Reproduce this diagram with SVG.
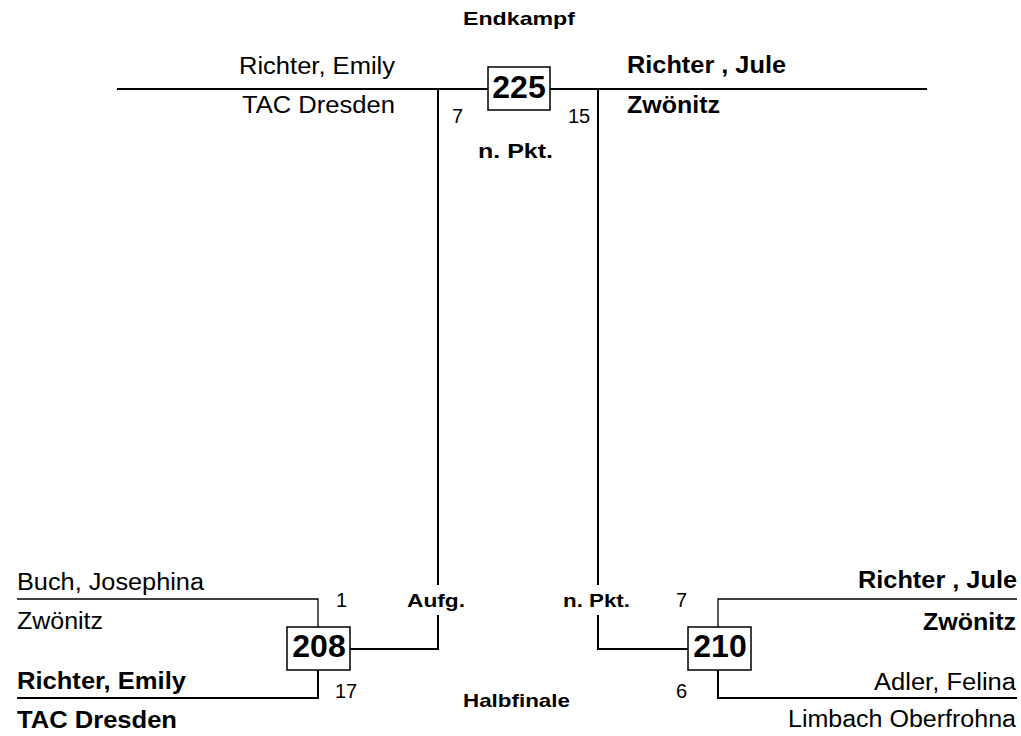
<svg xmlns="http://www.w3.org/2000/svg" width="1021" height="736" viewBox="0 0 1021 736">
<style>
text{font-family:"Liberation Sans",Arial,sans-serif;fill:#000}
.r{font-size:23.5px}
.b{font-size:23px;font-weight:bold}
.s{font-size:20px}
.h{font-size:18.5px;font-weight:bold}
.num{font-size:32px;font-weight:bold}
.box{fill:#fff;stroke:#000;stroke-width:1.5}
.ln{stroke:#000;stroke-width:2;fill:none}
.thin{stroke:#000;stroke-width:1.3;fill:none}
</style>
<rect width="1021" height="736" fill="#fff"/>
<g id="titles">
<text class="h" x="463" y="25" textLength="112" lengthAdjust="spacingAndGlyphs">Endkampf</text>
<text class="h" x="463" y="707" textLength="107" lengthAdjust="spacingAndGlyphs">Halbfinale</text>
</g>
<g id="connectors">
<line class="ln" x1="117" y1="89" x2="927" y2="89"/>
<polyline class="ln" points="438,89 438,585"/>
<polyline class="ln" points="438,615 438,649 350,649"/>
<polyline class="ln" points="598,89 598,585"/>
<polyline class="ln" points="598,615 598,649 688,649"/>
<polyline class="thin" points="17,599 318,599 318,627"/>
<polyline class="ln" points="17,698 318,698 318,670"/>
<polyline class="thin" points="1017,599 718,599 718,627"/>
<polyline class="ln" points="1017,698 718,698 718,670"/>
</g>
<g id="final-225">
<rect class="box" x="488" y="67" width="62" height="43"/>
<text class="num" x="519" y="98" text-anchor="middle">225</text>
<text class="s" x="452" y="123">7</text>
<text class="s" x="568" y="123">15</text>
<text x="478" y="158" style="font-size:21px;font-weight:bold" textLength="75" lengthAdjust="spacingAndGlyphs">n. Pkt.</text>
</g>
<g id="final-left">
<text class="r" x="239" y="74" textLength="156" lengthAdjust="spacingAndGlyphs">Richter, Emily</text>
<text class="r" x="242" y="113" textLength="153" lengthAdjust="spacingAndGlyphs">TAC Dresden</text>
</g>
<g id="final-right">
<text class="b" x="627" y="73" textLength="159" lengthAdjust="spacingAndGlyphs">Richter , Jule</text>
<text class="b" x="627" y="113" textLength="93" lengthAdjust="spacingAndGlyphs">Zwönitz</text>
</g>
<g id="sf-208">
<rect class="box" x="287" y="627" width="63" height="43"/>
<text class="num" x="319" y="657" text-anchor="middle">208</text>
<text class="s" x="336" y="607">1</text>
<text class="s" x="335" y="698">17</text>
<text class="h" x="407" y="607" textLength="58" lengthAdjust="spacingAndGlyphs">Aufg.</text>
</g>
<g id="sf-208-top">
<text class="r" x="17" y="590" textLength="187" lengthAdjust="spacingAndGlyphs">Buch, Josephina</text>
<text class="r" x="17" y="629" textLength="86" lengthAdjust="spacingAndGlyphs">Zwönitz</text>
</g>
<g id="sf-208-bottom">
<text class="b" x="17" y="689" textLength="169" lengthAdjust="spacingAndGlyphs">Richter, Emily</text>
<text class="b" x="17" y="728" textLength="160" lengthAdjust="spacingAndGlyphs">TAC Dresden</text>
</g>
<g id="sf-210">
<rect class="box" x="688" y="627" width="63" height="43"/>
<text class="num" x="720" y="657" text-anchor="middle">210</text>
<text class="s" x="676" y="607">7</text>
<text class="s" x="676" y="698">6</text>
<text class="h" x="563" y="607" textLength="67" lengthAdjust="spacingAndGlyphs">n. Pkt.</text>
</g>
<g id="sf-210-top">
<text class="b" x="858" y="588" textLength="159" lengthAdjust="spacingAndGlyphs">Richter , Jule</text>
<text class="b" x="923" y="630" textLength="93" lengthAdjust="spacingAndGlyphs">Zwönitz</text>
</g>
<g id="sf-210-bottom">
<text class="r" x="874" y="690" textLength="142" lengthAdjust="spacingAndGlyphs">Adler, Felina</text>
<text class="r" x="788" y="727" textLength="228" lengthAdjust="spacingAndGlyphs">Limbach Oberfrohna</text>
</g>
</svg>
